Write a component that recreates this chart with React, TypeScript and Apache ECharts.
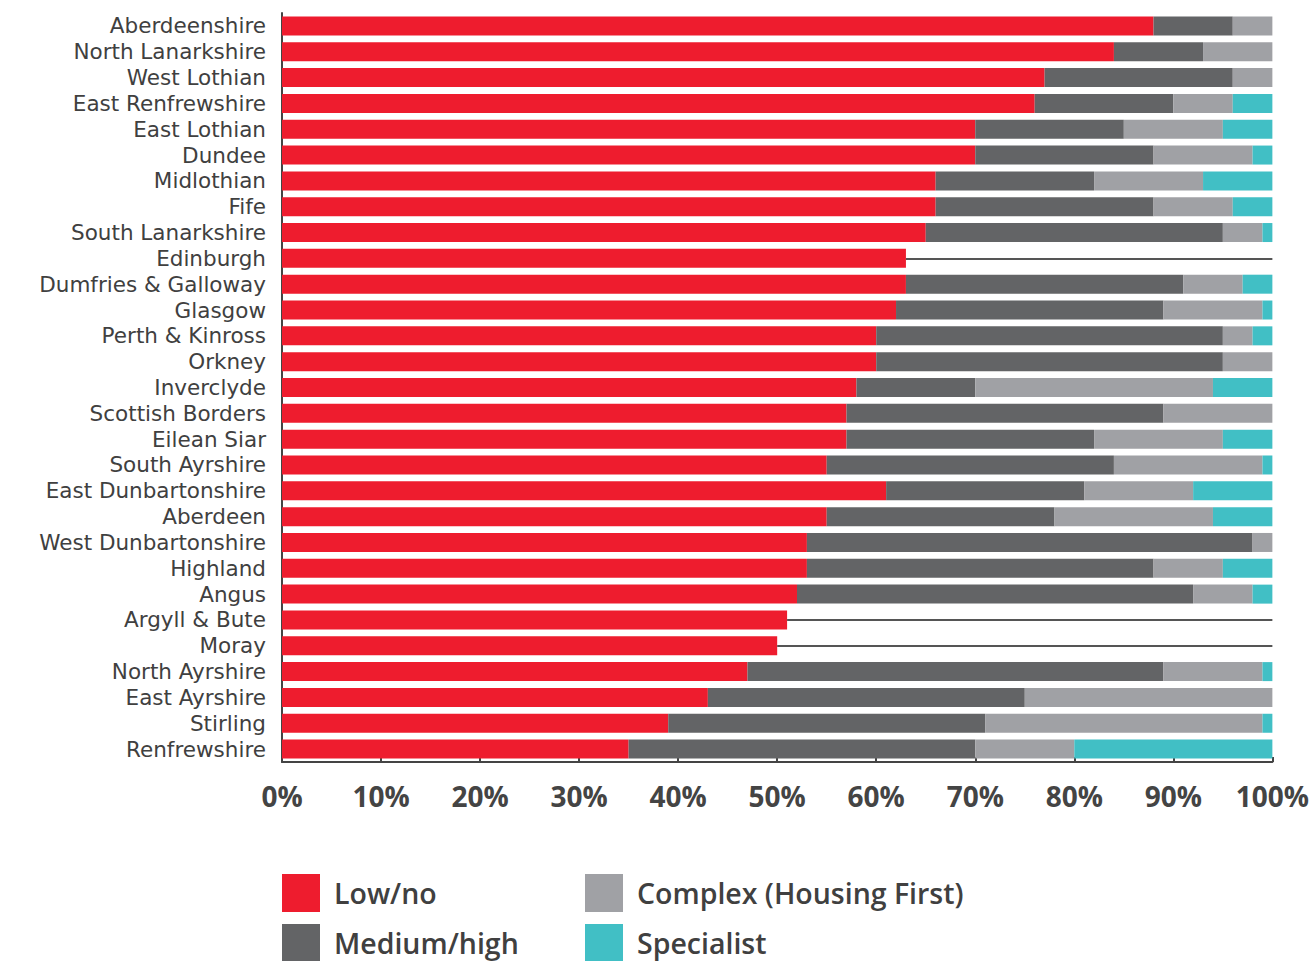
import React, { useEffect, useRef } from "react";
import * as echarts from "echarts";

const categories = [
  "Aberdeenshire", "North Lanarkshire", "West Lothian", "East Renfrewshire", "East Lothian",
  "Dundee", "Midlothian", "Fife", "South Lanarkshire", "Edinburgh", "Dumfries & Galloway",
  "Glasgow", "Perth & Kinross", "Orkney", "Inverclyde", "Scottish Borders", "Eilean Siar",
  "South Ayrshire", "East Dunbartonshire", "Aberdeen", "West Dunbartonshire", "Highland",
  "Angus", "Argyll & Bute", "Moray", "North Ayrshire", "East Ayrshire", "Stirling", "Renfrewshire",
];
const lowNo = [88, 84, 77, 76, 70, 70, 66, 66, 65, 63, 63, 62, 60, 60, 58, 57, 57, 55, 61, 55, 53, 53, 52, 51, 50, 47, 43, 39, 35];
const mediumHigh = [8, 9, 19, 14, 15, 18, 16, 22, 30, null, 28, 27, 35, 35, 12, 32, 25, 29, 20, 23, 45, 35, 40, null, null, 42, 32, 32, 35];
const complexHF = [4, 7, 4, 6, 10, 10, 11, 8, 4, null, 6, 10, 3, 5, 24, 11, 13, 15, 11, 16, 2, 7, 6, null, null, 10, 25, 28, 10];
const specialist = [0, 0, 0, 4, 5, 2, 7, 4, 1, null, 3, 1, 2, 0, 6, 0, 5, 1, 8, 6, 0, 5, 2, null, null, 1, 0, 1, 20];
const xTicks = [0, 10, 20, 30, 40, 50, 60, 70, 80, 90, 100];

const seriesNames = ["Low/no", "Medium/high", "Complex (Housing First)", "Specialist"];
const colors = ["#EE1C2E", "#636466", "#A0A1A5", "#41BFC5"];

const H = 1000;

export default function App() {
  const ref = useRef<HTMLDivElement>(null);
  useEffect(() => {
    document.body.style.margin = "0";
    document.body.style.overflow = "hidden";
    if (!ref.current) return;
    const chart = echarts.init(ref.current, undefined, { renderer: "svg" });
    const missingLines = categories
      .map((c, i) => ({ c, i }))
      .filter(({ i }) => mediumHigh[i] == null)
      .map(({ c, i }) => [
        { coord: [lowNo[i], c] },
        { coord: [xTicks[xTicks.length - 1], c] },
      ]);
    const datasets = [lowNo, mediumHigh, complexHF, specialist];
    const font = "'Open Sans', Lato, sans-serif";
    const legendBase = {
      orient: "vertical",
      top: 874,
      padding: 0,
      itemWidth: 38,
      itemHeight: 38,
      itemGap: 12,
      icon: "rect",
      textStyle: { fontSize: 28.5, lineHeight: 30, color: "#404040", fontFamily: font, fontWeight: 600, padding: [0, 0, 0, 9] },
      selectedMode: false,
    };
    chart.setOption({
      animation: false,
      grid: { left: 282, right: 38, top: 13, bottom: H - 762, containLabel: false },
      legend: [
        { ...legendBase, left: 282, data: [seriesNames[0], seriesNames[1]] },
        { ...legendBase, left: 585, data: [seriesNames[2], seriesNames[3]] },
      ],
      xAxis: {
        type: "value",
        min: 0,
        max: 100,
        interval: 10,
        splitLine: { show: false },
        axisLine: { show: true, lineStyle: { color: "#444", width: 2 } },
        axisTick: { show: true, inside: true, length: 5, lineStyle: { color: "#444", width: 2 } },
        axisLabel: {
          formatter: "{value}%",
          fontSize: 28,
          fontWeight: "bold",
          color: "#444",
          fontFamily: font,
          margin: 20,
        },
      },
      yAxis: {
        type: "category",
        data: categories,
        inverse: true,
        axisLine: { show: true, lineStyle: { color: "#444", width: 2 } },
        axisTick: { show: false },
        axisLabel: {
          interval: 0,
          fontSize: 21.5,
          lineHeight: 24,
          color: "#404040",
          fontFamily: "'DejaVu Sans', sans-serif",
          margin: 16,
        },
      },
      series: datasets.map((d, k) => ({
        name: seriesNames[k],
        type: "bar",
        stack: "total",
        data: d,
        barWidth: 19,
        itemStyle: { color: colors[k] },
        ...(k === 1
          ? {
              markLine: {
                silent: true,
                symbol: "none",
                label: { show: false },
                lineStyle: { color: "#555", width: 2, type: "solid" },
                data: missingLines,
              },
            }
          : {}),
      })),
    });
    return () => chart.dispose();
  }, []);
  return <div ref={ref} style={{ width: 1312, height: H }} />;
}
